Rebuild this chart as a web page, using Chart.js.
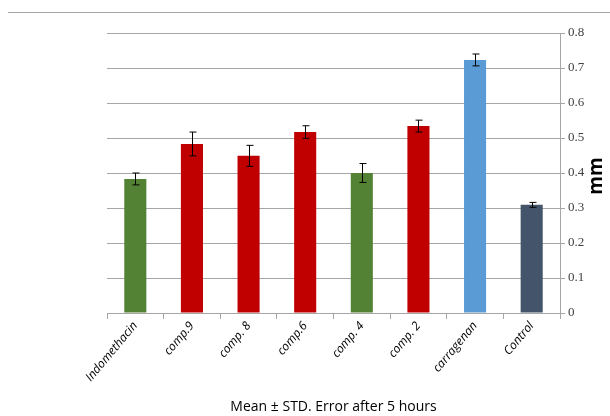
<!DOCTYPE html>
<html><head><meta charset="utf-8">
<script src="https://cdn.jsdelivr.net/npm/chart.js@4.4.0/dist/chart.umd.min.js"></script>
<style>html,body{margin:0;padding:0;background:#fff}#wrap{width:610px;height:416px}</style>
</head><body><div id="wrap"><canvas id="c" width="610" height="416"></canvas></div>
<script>
const categories = ["Indomethacin","comp.9","comp. 8","comp.6","comp. 4","comp. 2","carragenan","Control"];
const means = [0.383, 0.483, 0.449, 0.517, 0.400, 0.534, 0.723, 0.309];
const errors = [0.017, 0.034, 0.030, 0.018, 0.027, 0.017, 0.017, 0.007];
const barColors = ["#548235","#C00000","#C00000","#C00000","#548235","#C00000","#5B9BD5","#44546A"];
const yTicks = [0,0.1,0.2,0.3,0.4,0.5,0.6,0.7,0.8];
const yTitle = "mm";

const errPlugin = {
  id:'err',
  afterDatasetsDraw(chart){
    const ctx=chart.ctx, meta=chart.getDatasetMeta(0), y=chart.scales.y;
    ctx.save(); ctx.strokeStyle='#000'; ctx.lineWidth=1;
    meta.data.forEach((b,i)=>{
      const x=Math.round(b.x)+0.5, t=y.getPixelForValue(means[i]+errors[i]), bo=y.getPixelForValue(means[i]-errors[i]);
      ctx.beginPath(); ctx.moveTo(x,t); ctx.lineTo(x,bo);
      ctx.moveTo(x-3,t); ctx.lineTo(x+4,t); ctx.moveTo(x-3,bo); ctx.lineTo(x+4,bo); ctx.stroke();
    });
    ctx.restore();
  },
  afterDraw(chart){
    const ctx=chart.ctx, a=chart.chartArea; ctx.save(); ctx.strokeStyle='#A6A6A6'; ctx.lineWidth=1;
    ctx.beginPath(); ctx.moveTo(8,12.5); ctx.lineTo(610,12.5); ctx.stroke();
    ctx.translate(597,(a.top+a.bottom)/2+3); ctx.rotate(-Math.PI/2);
    ctx.fillStyle='#000'; ctx.font='bold 19px "Open Sans"'; ctx.textAlign='center'; ctx.textBaseline='middle';
    ctx.fillText(yTitle,0,0);
    ctx.restore();
  }
};

new Chart(document.getElementById('c'),{
  type:'bar',
  data:{labels:categories,datasets:[{data:means,backgroundColor:barColors,categoryPercentage:1,barPercentage:0.39}]},
  plugins:[errPlugin],
  options:{
    responsive:false,animation:false,
    layout:{padding:{left:107,top:33,right:0,bottom:0}},
    plugins:{legend:{display:false},tooltip:{enabled:false}},
    scales:{
      x:{
        grid:{offset:true,drawOnChartArea:false,color:'#A6A6A6',tickLength:6},
        border:{color:'#A6A6A6'},
        ticks:{color:'#000',font:{family:'Open Sans',size:12,style:'italic'},minRotation:50,maxRotation:50,padding:0},
        title:{display:true,text:'Mean ± STD. Error after 5 hours',color:'#000',font:{family:'Open Sans',size:14},padding:{top:0,bottom:1}},
        afterFit(s){s.height=103;}
      },
      y:{
        position:'right',min:0,max:0.8,
        afterBuildTicks(s){s.ticks=yTicks.map(v=>({value:v}));},
        grid:{color:'#A6A6A6',tickLength:5},
        border:{color:'#A6A6A6'},
        ticks:{color:'#404040',font:{family:'Liberation Sans Narrow',size:13},padding:3,callback:v=>String(v)},
        afterFit(s){s.width=50;}
      }
    }
  }
});
</script></body></html>
